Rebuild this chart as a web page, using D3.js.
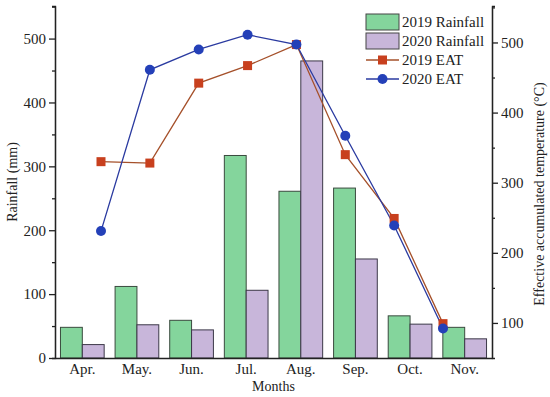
<!DOCTYPE html>
<html>
<head>
<meta charset="utf-8">
<script src="https://cdn.jsdelivr.net/npm/d3@7"></script>
<style>
    body { margin: 0; background: #fff; }
    text { font-family: "Liberation Serif", "Times New Roman", serif; fill: #222; }
</style>
</head>
<body>
<svg id="chart" width="550" height="397"></svg>
<script>
const months = ["Apr.", "May.", "Jun.", "Jul.", "Aug.", "Sep.", "Oct.", "Nov."];
const rain2019 = [48, 112, 59, 317, 261, 266, 66, 48];
const rain2020 = [21, 52, 44, 106, 465, 155, 53, 30];
const eat2019 = [330, 328, 442, 467, 497, 340, 249, 99];
const eat2020 = [231, 461, 490, 511, 497, 367, 239, 92];
const leftTicks = [0, 100, 200, 300, 400, 500];
const rightTicks = [100, 200, 300, 400, 500];

let margin = {top: 6, right: 58, bottom: 39, left: 55};
let width = 550 - margin.left - margin.right;
let height = 397 - margin.top - margin.bottom;

let svg = d3.select("#chart");
let plot = svg.append("g")
    .attr("transform", "translate(" + margin.left + "," + margin.top + ")");

let x = d3.scaleBand().domain(months).range([0, width]).paddingInner(0.2).paddingOuter(0.1);
let xLine = d3.scalePoint().domain(months).range([46, 388]);
let yL = d3.scaleLinear().domain([0, 551]).range([height, 0]);
let yR = d3.scaleLinear().domain([50, 552]).range([height, 0]);

// bars
let bw = x.bandwidth() / 2;
let barData = months.map((m, i) => ({m: m, a: rain2019[i], b: rain2020[i]}));
let groups = plot.selectAll(".grp").data(barData).enter().append("g")
    .attr("transform", d => "translate(" + x(d.m) + ",0)");
groups.append("rect")
    .attr("x", 0).attr("width", bw)
    .attr("y", d => yL(d.a)).attr("height", d => yL(0) - yL(d.a))
    .attr("fill", "#84d59c").attr("stroke", "#3a4a3e").attr("stroke-width", 1);
groups.append("rect")
    .attr("x", bw).attr("width", bw)
    .attr("y", d => yL(d.b)).attr("height", d => yL(0) - yL(d.b))
    .attr("fill", "#c8b6da").attr("stroke", "#3c3848").attr("stroke-width", 1);

// lines
let line = d3.line().x((d, i) => xLine(months[i])).y(d => yR(d));
plot.append("path").datum(eat2019).attr("d", line)
    .attr("fill", "none").attr("stroke", "#a5502a").attr("stroke-width", 1.3);
plot.append("path").datum(eat2020).attr("d", line)
    .attr("fill", "none").attr("stroke", "#2a3aa0").attr("stroke-width", 1.3);
plot.selectAll(".sq").data(eat2019).enter().append("rect")
    .attr("x", (d, i) => xLine(months[i]) - 4.5)
    .attr("y", d => yR(d) - 4.5)
    .attr("width", 9).attr("height", 9)
    .attr("fill", "#c8401e");
plot.selectAll(".dot").data(eat2020).enter().append("circle")
    .attr("cx", (d, i) => xLine(months[i]))
    .attr("cy", d => yR(d))
    .attr("r", 5)
    .attr("fill", "#2440b8");

// axes
function styleAxis(g) {
    g.selectAll("path, line").attr("stroke", "#222").attr("stroke-width", 1.3);
    g.selectAll("text").style("font-family", "Liberation Serif, serif").style("font-size", "15px").attr("fill", "#222");
}
let xAxis = plot.append("g").attr("transform", "translate(0," + height + ")")
    .call(d3.axisBottom(x).tickSize(0).tickPadding(5).tickSizeOuter(0));
styleAxis(xAxis);
xAxis.selectAll("text").attr("dy", "0.71em");

let lMinor = plot.append("g").call(d3.axisLeft(yL).tickValues(d3.range(50, 551, 100)).tickSize(3).tickFormat(""));
styleAxis(lMinor);
let lAxis = plot.append("g").call(d3.axisLeft(yL).tickValues(leftTicks).tickSize(6).tickSizeOuter(0).tickPadding(3));
styleAxis(lAxis);

let rMinor = plot.append("g").attr("transform", "translate(" + width + ",0)")
    .call(d3.axisRight(yR).tickValues(d3.range(150, 551, 100)).tickSize(3).tickFormat(""));
styleAxis(rMinor);
let rAxis = plot.append("g").attr("transform", "translate(" + width + ",0)")
    .call(d3.axisRight(yR).tickValues(rightTicks).tickSize(6).tickSizeOuter(0).tickPadding(3));
styleAxis(rAxis);

// axis titles
svg.append("text").attr("transform", "translate(17," + (margin.top + height / 2) + ") rotate(-90)")
    .attr("text-anchor", "middle").style("font-size", "14px").text("Rainfall (mm)");
svg.append("text").attr("transform", "translate(544," + (margin.top + height / 2 + 12) + ") rotate(-90)")
    .attr("text-anchor", "middle").style("font-size", "14px").text("Effective accumulated temperature (°C)");
svg.append("text").attr("x", margin.left + width / 2).attr("y", 391)
    .attr("text-anchor", "middle").style("font-size", "14px").text("Months");

// legend
let legend = svg.append("g").attr("transform", "translate(366,14)");
let legItems = [
    {label: "2019 Rainfall", type: "box", fill: "#84d59c"},
    {label: "2020 Rainfall", type: "box", fill: "#c8b6da"},
    {label: "2019 EAT", type: "sq", fill: "#c8401e", stroke: "#a5502a"},
    {label: "2020 EAT", type: "dot", fill: "#2440b8", stroke: "#2a3aa0"}
];
let li = legend.selectAll(".legend").data(legItems).enter().append("g")
    .attr("class", "legend")
    .attr("transform", (d, i) => "translate(0," + (i * 19) + ")");
li.filter(d => d.type === "box").append("rect")
    .attr("width", 33).attr("height", 16)
    .attr("fill", d => d.fill).attr("stroke", "#444").attr("stroke-width", 1);
li.filter(d => d.type !== "box").append("line")
    .attr("x1", 0).attr("x2", 33).attr("y1", 8).attr("y2", 8)
    .attr("stroke", d => d.stroke).attr("stroke-width", 1.3);
li.filter(d => d.type === "sq").append("rect")
    .attr("x", 12).attr("y", 3.5).attr("width", 9).attr("height", 9).attr("fill", d => d.fill);
li.filter(d => d.type === "dot").append("circle")
    .attr("cx", 16.5).attr("cy", 8).attr("r", 5).attr("fill", d => d.fill);
li.append("text").attr("x", 36).attr("y", 13)
    .style("font-size", "15px").text(d => d.label);
</script>
</body>
</html>
